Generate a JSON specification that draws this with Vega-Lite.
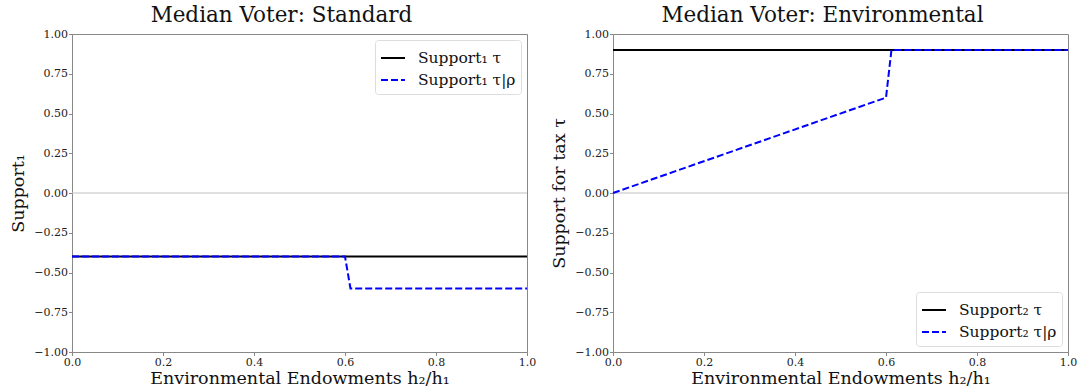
{
  "$schema": "https://vega.github.io/schema/vega-lite/v6.json",
  "background": "white",
  "padding": {"left": 9, "top": 4, "right": 2, "bottom": 2},
  "spacing": 13,
  "config": {
    "font": "DejaVu Serif",
    "view": {"stroke": "#888888", "strokeWidth": 1},
    "axis": {
      "labelFont": "DejaVu Serif", "labelFontSize": 11, "labelColor": "#222",
      "titleFont": "DejaVu Serif", "titleFontWeight": "normal", "titleFontSize": 17.5, "titleColor": "#111",
      "domainColor": "#888888", "tickColor": "#888888", "grid": false, "tickSize": 3.5, "labelPadding": 1,
      "labelOverlap": false, "labelFlush": false
    },
    "title": {"font": "DejaVu Serif", "fontSize": 21.5, "fontWeight": "normal", "color": "#111", "offset": 2, "dx": -18},
    "legend": {
      "labelFont": "DejaVu Serif", "labelFontSize": 15.5, "labelColor": "#111",
      "strokeColor": "#dddddd", "fillColor": "white", "cornerRadius": 3, "padding": 5,
      "symbolType": "stroke", "symbolStrokeWidth": 2, "symbolSize": 576, "rowPadding": 0, "offset": 6, "labelOffset": 12
    }
  },
  "datasets": {
    "left": [
      {"series": "Support₁ τ", "x": 0.0, "y": -0.4},
      {"series": "Support₁ τ", "x": 1.0, "y": -0.4},
      {"series": "Support₁ τ|ρ", "x": 0.0, "y": -0.4},
      {"series": "Support₁ τ|ρ", "x": 0.6, "y": -0.4},
      {"series": "Support₁ τ|ρ", "x": 0.612, "y": -0.6},
      {"series": "Support₁ τ|ρ", "x": 1.0, "y": -0.6}
    ],
    "right": [
      {"series": "Support₂ τ", "x": 0.0, "y": 0.9},
      {"series": "Support₂ τ", "x": 1.0, "y": 0.9},
      {"series": "Support₂ τ|ρ", "x": 0.0, "y": 0.0},
      {"series": "Support₂ τ|ρ", "x": 0.6, "y": 0.6},
      {"series": "Support₂ τ|ρ", "x": 0.612, "y": 0.9},
      {"series": "Support₂ τ|ρ", "x": 1.0, "y": 0.9}
    ],
    "zero": [{"y": 0}]
  },
  "hconcat": [
    {
      "title": "Median Voter: Standard",
      "width": 455, "height": 318,
      "layer": [
        {
          "data": {"name": "left"},
          "mark": {"type": "line", "strokeWidth": 2, "opacity": 0},
          "encoding": {
            "x": {"field": "x", "type": "quantitative", "scale": {"domain": [0, 1], "nice": false},
                  "axis": {"values": [0, 0.2, 0.4, 0.6, 0.8, 1.0], "format": ".1f", "title": "Environmental Endowments h₂/h₁", "titlePadding": 2, "labelOverlap": false}},
            "y": {"field": "y", "type": "quantitative", "scale": {"domain": [-1, 1], "nice": false},
                  "axis": {"values": [-1, -0.75, -0.5, -0.25, 0, 0.25, 0.5, 0.75, 1], "tickCount": 9, "format": ".2f", "title": "Support₁", "titlePadding": 6, "labelOverlap": false}}
          }
        },
        {
          "data": {"name": "zero"},
          "mark": {"type": "rule", "color": "#c0c0c0", "strokeWidth": 1},
          "encoding": {"y": {"field": "y", "type": "quantitative"}}
        },
        {
          "data": {"name": "left"},
          "mark": {"type": "line", "strokeWidth": 2},
          "encoding": {
            "x": {"field": "x", "type": "quantitative"},
            "y": {"field": "y", "type": "quantitative"},
            "color": {"field": "series", "type": "nominal",
                      "scale": {"domain": ["Support₁ τ", "Support₁ τ|ρ"], "range": ["#000000", "#0000ff"]},
                      "legend": {"title": null, "orient": "top-right"}},
            "strokeDash": {"field": "series", "type": "nominal",
                      "scale": {"domain": ["Support₁ τ", "Support₁ τ|ρ"], "range": [[1, 0], [7, 3]]},
                      "legend": {"title": null, "orient": "top-right"}},
            "order": {"field": "x", "type": "quantitative"}
          }
        }
      ]
    },
    {
      "title": "Median Voter: Environmental",
      "width": 455, "height": 318,
      "layer": [
        {
          "data": {"name": "right"},
          "mark": {"type": "line", "strokeWidth": 2, "opacity": 0},
          "encoding": {
            "x": {"field": "x", "type": "quantitative", "scale": {"domain": [0, 1], "nice": false},
                  "axis": {"values": [0, 0.2, 0.4, 0.6, 0.8, 1.0], "format": ".1f", "title": "Environmental Endowments h₂/h₁", "titlePadding": 2, "labelOverlap": false}},
            "y": {"field": "y", "type": "quantitative", "scale": {"domain": [-1, 1], "nice": false},
                  "axis": {"values": [-1, -0.75, -0.5, -0.25, 0, 0.25, 0.5, 0.75, 1], "tickCount": 9, "format": ".2f", "title": "Support for tax τ", "titlePadding": 6, "labelOverlap": false}}
          }
        },
        {
          "data": {"name": "zero"},
          "mark": {"type": "rule", "color": "#c0c0c0", "strokeWidth": 1},
          "encoding": {"y": {"field": "y", "type": "quantitative"}}
        },
        {
          "data": {"name": "right"},
          "mark": {"type": "line", "strokeWidth": 2},
          "encoding": {
            "x": {"field": "x", "type": "quantitative"},
            "y": {"field": "y", "type": "quantitative"},
            "color": {"field": "series", "type": "nominal",
                      "scale": {"domain": ["Support₂ τ", "Support₂ τ|ρ"], "range": ["#000000", "#0000ff"]},
                      "legend": {"title": null, "orient": "bottom-right"}},
            "strokeDash": {"field": "series", "type": "nominal",
                      "scale": {"domain": ["Support₂ τ", "Support₂ τ|ρ"], "range": [[1, 0], [7, 3]]},
                      "legend": {"title": null, "orient": "bottom-right"}},
            "order": {"field": "x", "type": "quantitative"}
          }
        }
      ]
    }
  ],
  "resolve": {"scale": {"color": "independent", "strokeDash": "independent"}, "legend": {"color": "independent", "strokeDash": "independent"}}
}
